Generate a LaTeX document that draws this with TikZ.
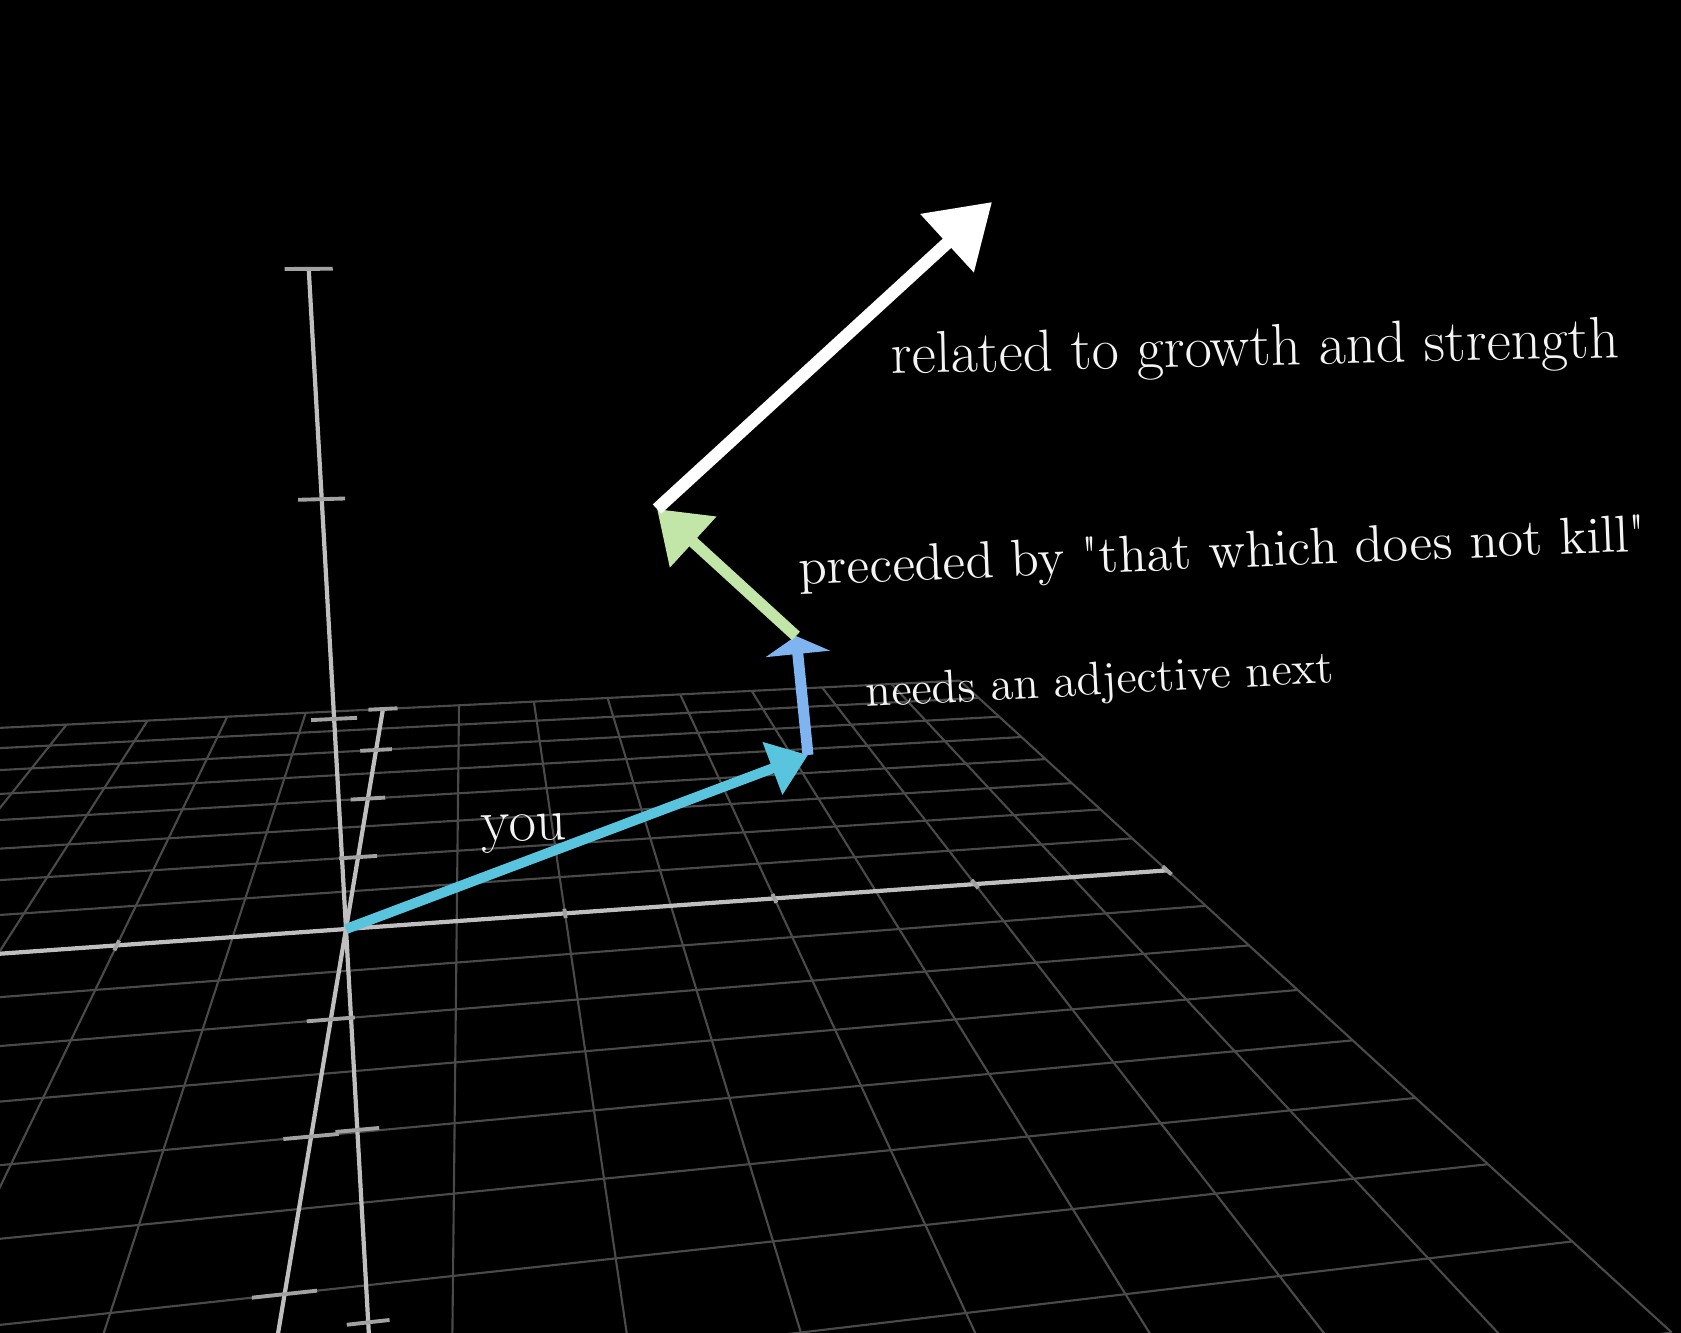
\documentclass[tikz,border=0pt]{standalone}
\usepackage{xcolor}
\usepackage{tikz}
\usetikzlibrary{arrows.meta}
\definecolor{youblue}{HTML}{58C4DD}
\definecolor{adjblue}{HTML}{80B4F0}
\definecolor{killgreen}{HTML}{C2E5A8}
\definecolor{gridgray}{HTML}{4A4A4A}
\definecolor{axisgray}{HTML}{BFBFBF}
\definecolor{wordwhite}{HTML}{F4F4F4}

\font\qtfont="[lmroman17-regular]" at 14.8pt
\newcommand{\sq}{{\qtfont\char"22}}

\tikzset{cam/u/.store in=\camu, cam/v/.store in=\camv, cam/z/.store in=\camz}
\tikzdeclarecoordinatesystem{cam}{%
  \tikzset{cam/.cd,u=0,v=0,z=0,#1}%
  \pgfmathsetmacro\camw{1+0.01141*\camu+0.057*\camv-0.0111*\camz}%
  \pgfmathsetmacro\camx{346+(112*\camu+6.73*\camv-5.8*\camz)/\camw}%
  \pgfmathsetmacro\camy{929-(8*\camu+40.04*\camv+102.7*\camz)/\camw}%
  \pgfpointxy{\camx}{\camy}%
}

\begin{document}
\begin{tikzpicture}[x=0.01cm, y=-0.01cm,
  gridline/.style={draw=gridgray, line width=0.6pt},
  axisline/.style={draw=axisgray, line width=1.2pt},
  tickline/.style={draw=axisgray!85!black, line width=1.1pt},
  wordlabel/.style={text=wordwhite, inner sep=0pt, anchor=base west}
]
  \useasboundingbox (0,0) rectangle (1681,1333);
  \fill[black] (0,0) rectangle (1681,1333);

  \begin{scope}
    \clip (0,0) rectangle (1681,1333);
    \foreach \i in {-8,...,8}{
      \draw[gridline] (cam cs:u=\i,v=-8) -- (cam cs:u=\i,v=8);
      \draw[gridline] (cam cs:u=-8,v=\i) -- (cam cs:u=8,v=\i);
    }
    \draw[axisline] (cam cs:u=-8) -- (cam cs:u=8);
    \draw[axisline] (cam cs:v=-8) -- (cam cs:v=8);
    \draw[axisline] (cam cs:z=-6) -- (cam cs:z=6);
    \foreach \t in {-8,-6,-4,-2,2,4,6,8}{
      \draw[tickline] (cam cs:u=\t,v=-0.12) -- (cam cs:u=\t,v=0.12);
      \draw[tickline] (cam cs:v=\t,u=-0.19) -- (cam cs:v=\t,u=0.19);
    }
    \foreach \t in {-6,-4,-2,2,4,6}
      \draw[tickline] (cam cs:z=\t,u=-0.2) -- (cam cs:z=\t,u=0.2);
  \end{scope}

  \coordinate (o) at (cam cs:u=0);
  \coordinate (you) at (808,755);
  \coordinate (adj) at (796,636);
  \coordinate (kill) at (657,509);
  \coordinate (strength) at (992,202);

  \draw[youblue, line width=1mm, -{Triangle[length=3.8mm,width=5.4mm]}] (o) -- (you);
  \draw[adjblue, line width=1.1mm, -{Triangle[length=1.8mm,width=6.4mm]}] (you) -- (adj);
  \draw[killgreen, line width=1.15mm, -{Triangle[length=4.9mm,width=6.6mm]}] (adj) -- (kill);
  \draw[white, line width=1.25mm, -{Triangle[length=6.1mm,width=7.6mm]}] (kill) -- (strength);

  \node[wordlabel, font=\fontsize{17}{20}\selectfont, rotate=2] (youlbl) at (481,842) {you};
  \node[wordlabel, font=\fontsize{13.3}{16}\selectfont, rotate=3] (adjlbl) at (866,707) {needs an adjective next};
  \node[wordlabel, font=\fontsize{14.8}{17}\selectfont, rotate=2.3] (killlbl) at (799,585) {preceded by \sq that which does not kill\sq};
  \node[wordlabel, font=\fontsize{16.8}{20}\selectfont, rotate=1.3] (strengthlbl) at (891,374) {related to growth and strength};
\end{tikzpicture}
\end{document}
